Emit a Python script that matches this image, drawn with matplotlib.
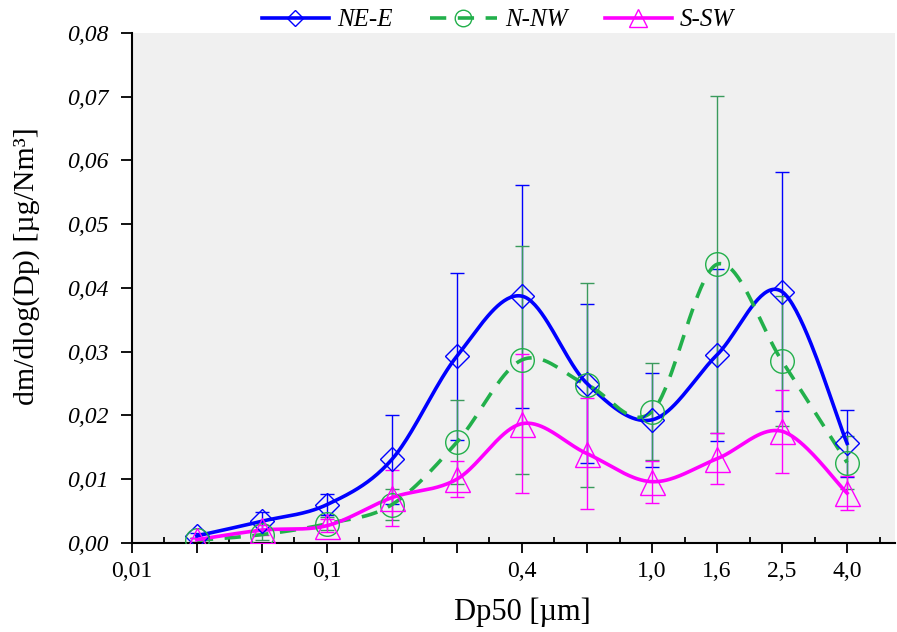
import numpy as np
import matplotlib
matplotlib.use('Agg')
import matplotlib.pyplot as plt
from matplotlib.lines import Line2D
from matplotlib.ticker import FuncFormatter, MultipleLocator
from typing import List, Tuple


# --- Data ---

# impactor stage cut sizes, the first one is only the lower bound of the axis
STAGE_DP50: List[float] = [0.01, 0.03, 0.06, 0.1, 0.17, 0.26, 0.4, 0.65, 1.0, 1.6, 2.5, 4.0]
LABELLED_DP50: List[float] = [0.01, 0.1, 0.4, 1.0, 1.6, 2.5, 4.0]

NE_E_MEAN = [0.0011, 0.0034, 0.0060, 0.0131, 0.0293, 0.0387, 0.0250, 0.0193, 0.0295, 0.0394, 0.0156]
NE_E_SD = [0.0004, 0.0014, 0.0016, 0.0070, 0.0131, 0.0175, 0.0124, 0.0074, 0.0135, 0.0187, 0.0052]

N_NW_MEAN = [0.0004, 0.0013, 0.0030, 0.0060, 0.0158, 0.0287, 0.0248, 0.0206, 0.0437, 0.0285, 0.0126]
N_NW_SD = [0.0003, 0.0008, 0.0010, 0.0024, 0.0066, 0.0179, 0.0160, 0.0076, 0.0264, 0.0102, 0.0041]

S_SW_MEAN = [0.0005, 0.0020, 0.0027, 0.0071, 0.0100, 0.0187, 0.0140, 0.0096, 0.0132, 0.0175, 0.0078]
S_SW_SD = [0.0003, 0.0008, 0.0010, 0.0044, 0.0028, 0.0109, 0.0087, 0.0033, 0.0040, 0.0065, 0.0027]

SERIES_NAMES = ['NE-E', 'N-NW', 'S-SW']


def catmull_rom(x: np.ndarray, y: np.ndarray, n: int = 40) -> Tuple[np.ndarray, np.ndarray]:
    """Smooth curve through the points, like a spreadsheet 'smoothed line'."""
    pts = np.column_stack([x, y]).astype(float)
    pts = np.vstack([pts[0], pts, pts[-1]])
    t = np.linspace(0, 1, n, endpoint=False)[:, None]
    out = []
    for i in range(1, len(pts) - 2):
        p0, p1, p2, p3 = pts[i - 1], pts[i], pts[i + 1], pts[i + 2]
        seg = 0.5 * (2 * p1 + (-p0 + p2) * t
                     + (2 * p0 - 5 * p1 + 4 * p2 - p3) * t ** 2
                     + (-p0 + 3 * p1 - 3 * p2 + p3) * t ** 3)
        out.append(seg)
    out.append(pts[-2][None, :])
    res = np.vstack(out)
    return res[:, 0], res[:, 1]


def comma(v: float, _pos=None) -> str:
    return f'{v:.2f}'.replace('.', ',')


def stage_label(v: float) -> str:
    """Only some stages get a label; decimal comma as in the original."""
    if v not in LABELLED_DP50:
        return ''
    if v >= 1:
        txt = f'{v:.1f}'
    else:
        txt = f'{v:g}'
    return txt.replace('.', ',')


plt.rcParams['font.family'] = ['Liberation Serif', 'DejaVu Serif']

fig = plt.figure(figsize=(8.97, 6.32), dpi=100)
ax = fig.add_axes([0.147, 0.141, 0.851, 0.807])
ax.set_facecolor('#f0f0f0')

x = np.arange(1, len(STAGE_DP50))

styles = [
    dict(color='#0000ff', ls='-', marker='D', ms=12, ecolor='#0000ff'),
    dict(color='#22b04b', ls=(0, (4.5, 3.2)), marker='o', ms=17, ecolor='#3a9a5c'),
    dict(color='#ff00ff', ls='-', marker='^', ms=18, ecolor='#ff00ff'),
]
data = [(NE_E_MEAN, NE_E_SD), (N_NW_MEAN, N_NW_SD), (S_SW_MEAN, S_SW_SD)]

handles = []
for name, (mean, sd), st in zip(SERIES_NAMES, data, styles):
    ax.errorbar(x, mean, yerr=sd, fmt='none', ecolor=st['ecolor'], elinewidth=1.0,
                capsize=5, capthick=1.0, zorder=2)
    sx, sy = catmull_rom(x, np.array(mean))
    ax.plot(sx, sy, color=st['color'], ls=st['ls'], lw=2.6, zorder=3)
    ax.plot(x, mean, ls='none', marker=st['marker'], ms=st['ms'], mfc='none',
            mec=st['color'], mew=1.0, zorder=4)
    handles.append(Line2D([], [], color=st['color'], ls=st['ls'], lw=2.6,
                          marker=st['marker'], ms=st['ms'] * 0.7, mfc='none',
                          mec=st['color'], mew=1.0, label=name))

# axes
ax.set_xlim(0, 11.74)
ax.set_ylim(0, 0.08)
ax.yaxis.set_major_locator(MultipleLocator(0.01))
ax.yaxis.set_major_formatter(FuncFormatter(comma))

ax.set_xticks(np.arange(len(STAGE_DP50)))
ax.set_xticklabels([stage_label(v) for v in STAGE_DP50])
ax.set_xticks(np.arange(len(STAGE_DP50)) + 0.5, minor=True)

for s in ['top', 'right']:
    ax.spines[s].set_visible(False)
for s in ['left', 'bottom']:
    ax.spines[s].set_linewidth(1.5)

ax.tick_params(axis='x', which='major', direction='out', length=7, width=1.3,
               labelsize=17, pad=6)
ax.tick_params(axis='x', which='minor', direction='in', length=4, width=1.3)
ax.tick_params(axis='y', which='major', direction='out', length=8, width=1.3,
               labelsize=17, pad=9)
for lab in ax.get_yticklabels():
    lab.set_fontstyle('italic')

ax.set_xlabel('Dp50 [µm]', fontsize=22)
ax.set_ylabel('dm/dlog(Dp) [µg/Nm³]', fontsize=21.5)
ax.xaxis.set_label_coords(0.512, -0.108)
ax.yaxis.set_label_coords(-0.12, 0.543)

fig.legend(handles=handles, loc='center', bbox_to_anchor=(0.555, 0.968), ncol=3,
           frameon=False, prop={'size': 18, 'style': 'italic'}, handlelength=2.7,
           handletextpad=0.3, columnspacing=1.5, borderaxespad=0)

fig.savefig('out.png', dpi=100)
